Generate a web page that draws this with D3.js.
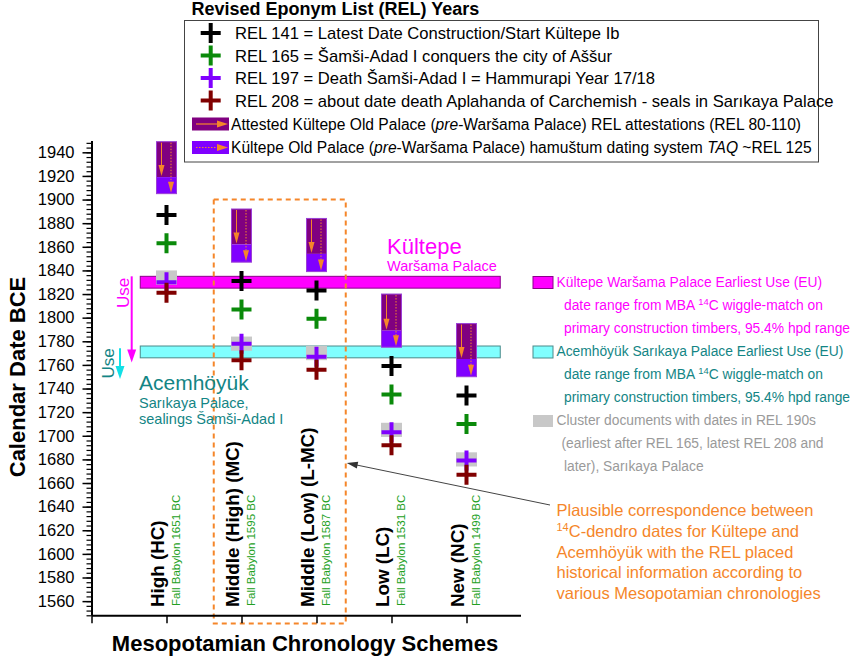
<!DOCTYPE html>
<html><head><meta charset="utf-8">
<script src="https://cdn.jsdelivr.net/npm/d3@7"></script>
<style>
body{margin:0;background:#fff}
svg{display:block}
text{font-family:"Liberation Sans",Arial,Helvetica,sans-serif}
</style>
</head><body>
<svg id="c" width="850" height="658"></svg>
<script>
// ---------- data ----------
const schemes = ["High (HC)", "Middle (High) (MC)", "Middle (Low) (L-MC)", "Low (LC)", "New (NC)"];
const fallBabylon = ["Fall Babylon 1651 BC", "Fall Babylon 1595 BC", "Fall Babylon 1587 BC", "Fall Babylon 1531 BC", "Fall Babylon 1499 BC"];
const schemePos = [1, 2, 3, 4, 5];
const rel141 = [1887, 1831, 1823, 1759, 1734];
const rel165 = [1863, 1807, 1799, 1735, 1710];
const rel197 = [1830, 1778, 1767, 1703, 1679];
const rel208 = [1821, 1764, 1756, 1692, 1667];
const attestedStart = [1949, 1892, 1884, 1820, 1795];   // REL 80
const attestedEnd   = [1919, 1862, 1854, 1789, 1765];   // REL 110
const taqEnd        = [1905, 1847, 1839, 1775, 1750];   // REL 125
const clusterTop    = [1840, 1784, 1776, 1711, 1686];
const clusterBottom = [1828, 1772, 1764, 1699, 1674];
const kultepeEU = [1835, 1825];
const acemhoyukEU = [1776, 1766];
const bandSpan = [0.65, 5.45];
const plausibleX = [1.63, 3.39];
const plausibleY = [1541, 1900];
const yTicks = d3.range(1560, 1941, 20);
const yMinor = d3.range(1548, 1951, 4);
const legendRows = [
  "REL 141 = Latest Date Construction/Start Kültepe Ib",
  "REL 165 = Šamši-Adad I conquers the city of Aššur",
  "REL 197 = Death Šamši-Adad I = Hammurapi Year 17/18",
  "REL 208 = about date death Aplahanda of Carchemish - seals in Sarıkaya Palace"
];

// ---------- colors ----------
const C = {
  black:"#000000", green:"#0a8a0a", violet:"#8000ff", dred:"#800000",
  dpurple:"#800080", magenta:"#ff00ff", cyan:"#80ffff", teal:"#138585",
  gray:"#c8c8c8", grayText:"#9a9a9a", orange:"#f5862a", fb:"#22a022"
};
const crossSeries = [
  {vals: rel141, color: C.black},
  {vals: rel165, color: C.green},
  {vals: rel197, color: C.violet},
  {vals: rel208, color: C.dred}
];

const svg = d3.select("#c");
const x = d3.scaleLinear().domain([0, 5.72]).range([91.5, 520.5]);
const y = d3.scaleLinear().domain([1548, 1950]).range([615.3, 140.5]);

// ---------- bands ----------
svg.append("rect").attr("x", x(bandSpan[0])).attr("width", x(bandSpan[1]) - x(bandSpan[0]))
  .attr("y", y(kultepeEU[0])).attr("height", y(kultepeEU[1]) - y(kultepeEU[0]))
  .attr("fill", C.magenta).attr("stroke", "#8b008b").attr("stroke-width", 1);
svg.append("rect").attr("x", x(bandSpan[0])).attr("width", x(bandSpan[1]) - x(bandSpan[0]))
  .attr("y", y(acemhoyukEU[0])).attr("height", y(acemhoyukEU[1]) - y(acemhoyukEU[0]))
  .attr("fill", C.cyan).attr("stroke", "#4a8a8a").attr("stroke-width", 1);

// ---------- bars ----------
function arrowHead(g, xx, tipY, color, len, hw) {
  g.append("path").attr("d", `M${xx - hw},${tipY - len}L${xx + hw},${tipY - len}L${xx},${tipY}Z`).attr("fill", color);
}
const barW = 20;
schemePos.forEach((p, i) => {
  const cx = x(p);
  const g = svg.append("g");
  g.append("rect").attr("x", cx - barW/2).attr("width", barW)
    .attr("y", y(attestedStart[i])).attr("height", y(attestedEnd[i]) - y(attestedStart[i]))
    .attr("fill", C.dpurple);
  g.append("rect").attr("x", cx - barW/2).attr("width", barW)
    .attr("y", y(attestedEnd[i])).attr("height", y(taqEnd[i]) - y(attestedEnd[i]))
    .attr("fill", C.violet);
  g.append("rect").attr("x", cx - barW/2).attr("width", barW)
    .attr("y", y(attestedStart[i])).attr("height", y(taqEnd[i]) - y(attestedStart[i]))
    .attr("fill", "none").attr("stroke", "#9b3fd6").attr("stroke-width", 1);
  g.append("line").attr("x1", cx - 5).attr("x2", cx - 5)
    .attr("y1", y(attestedStart[i]) + 1).attr("y2", y(attestedEnd[i]) - 8)
    .attr("stroke", C.orange).attr("stroke-width", 1);
  arrowHead(g, cx - 5, y(attestedEnd[i]) - 1, C.orange, 11, 3);
  g.append("line").attr("x1", cx + 4.5).attr("x2", cx + 4.5)
    .attr("y1", y(attestedStart[i]) + 1).attr("y2", y(taqEnd[i]) - 8)
    .attr("stroke", C.orange).attr("stroke-width", 1).attr("stroke-dasharray", "1.5,1.5");
  arrowHead(g, cx + 4.5, y(taqEnd[i]) - 1, C.orange, 11, 3);
});

// ---------- cluster (gray) ----------
schemePos.forEach((p, i) => {
  svg.append("rect").attr("x", x(p) - 10.5).attr("width", 21)
    .attr("y", y(clusterTop[i])).attr("height", y(clusterBottom[i]) - y(clusterTop[i]))
    .attr("fill", C.gray);
});

// ---------- crosses ----------
function cross(g, cx, cy, color, s) {
  g.append("path").attr("d", `M${cx - s},${cy}H${cx + s}M${cx},${cy - s}V${cy + s}`)
    .attr("stroke", color).attr("stroke-width", 4).attr("fill", "none");
}
crossSeries.forEach(s => {
  schemePos.forEach((p, i) => cross(svg, x(p), y(s.vals[i]), s.color, 10));
});

// ---------- plausible box ----------
svg.append("rect").attr("x", x(plausibleX[0])).attr("width", x(plausibleX[1]) - x(plausibleX[0]))
  .attr("y", y(plausibleY[1])).attr("height", y(plausibleY[0]) - y(plausibleY[1]))
  .attr("fill", "none").attr("stroke", C.orange).attr("stroke-width", 2).attr("stroke-dasharray", "5,4");

// ---------- axes ----------
const yAx = svg.append("g").attr("transform", `translate(${x(0)},0)`)
  .call(d3.axisLeft(y).tickValues(yTicks).tickSize(9).tickSizeOuter(0).tickPadding(8).tickFormat(d3.format("d")));
yAx.select(".domain").attr("stroke-width", 2);
yAx.selectAll(".tick line").attr("stroke-width", 1.5);
yAx.selectAll("text").attr("font-size", 16.5).attr("fill", "#000").attr("font-family", '"Liberation Sans",Arial,sans-serif');
const yMin = svg.append("g").attr("transform", `translate(${x(0)},0)`)
  .call(d3.axisLeft(y).tickValues(yMinor).tickSize(5).tickSizeOuter(0).tickFormat(""));
yMin.select(".domain").remove();
yMin.selectAll(".tick line").attr("stroke-width", 1.2);

const xAx = svg.append("g").attr("transform", `translate(0,${y(1548)})`)
  .call(d3.axisBottom(x).tickValues([0].concat(schemePos)).tickSize(8).tickSizeOuter(0).tickFormat(""));
xAx.select(".domain").attr("stroke-width", 2);
xAx.selectAll(".tick line").attr("stroke-width", 1.5);

// category labels
schemePos.forEach((p, i) => {
  const cx = x(p);
  svg.append("text").attr("transform", `translate(${cx - 2.5},607) rotate(-90)`)
    .attr("font-size", 18.8).attr("font-weight", "bold").attr("fill", "#000").text(schemes[i]);
  svg.append("text").attr("transform", `translate(${cx + 13.5},606) rotate(-90)`)
    .attr("font-size", 11.5).attr("fill", C.fb).text(fallBabylon[i]);
});

// axis titles
svg.append("text").attr("x", 305).attr("y", 651).attr("text-anchor", "middle")
  .attr("font-size", 22).attr("font-weight", "bold").text("Mesopotamian Chronology Schemes");
svg.append("text").attr("transform", "translate(25,377) rotate(-90)").attr("text-anchor", "middle")
  .attr("font-size", 22).attr("font-weight", "bold").text("Calendar Date BCE");

// ---------- in-plot annotations ----------
svg.append("text").attr("x", 387).attr("y", 254).attr("font-size", 22).attr("fill", C.magenta).text("Kültepe");
svg.append("text").attr("x", 387).attr("y", 271).attr("font-size", 14.5).attr("fill", C.magenta).text("Waršama Palace");
svg.append("text").attr("x", 139).attr("y", 390).attr("font-size", 21).attr("fill", C.teal).text("Acemhöyük");
svg.append("text").attr("x", 139).attr("y", 407.5).attr("font-size", 14.5).attr("fill", C.teal).text("Sarıkaya Palace,");
svg.append("text").attr("x", 139).attr("y", 424).attr("font-size", 14.5).attr("fill", C.teal).text("sealings Šamši-Adad I");

// Use arrows
svg.append("text").attr("transform", "translate(128.5,308) rotate(-90)").attr("font-size", 17).attr("fill", C.magenta).text("Use");
svg.append("line").attr("x1", x(0.536)).attr("x2", x(0.536)).attr("y1", y(kultepeEU[0])).attr("y2", y(1762) - 10)
  .attr("stroke", C.magenta).attr("stroke-width", 2);
arrowHead(svg, x(0.536), y(1762), C.magenta, 13, 4.5);
svg.append("text").attr("transform", "translate(113.5,378.5) rotate(-90)").attr("font-size", 17).attr("fill", C.teal).text("Use");
svg.append("line").attr("x1", x(0.38)).attr("x2", x(0.38)).attr("y1", y(1774)).attr("y2", y(1748) - 10)
  .attr("stroke", "#12e0e6").attr("stroke-width", 2);
arrowHead(svg, x(0.38), y(1748), "#12e0e6", 13, 4.5);

// pointer to dashed box
const tipX = x(plausibleX[1]) + 1, tipY = y(1677);
const sx = 550, sy = 505;
svg.append("line").attr("x1", sx).attr("y1", sy).attr("x2", tipX + 8).attr("y2", tipY + 1.7)
  .attr("stroke", "#444").attr("stroke-width", 1);
{
  const ang = Math.atan2(sy - tipY, sx - tipX);
  const L = 11, W = 3.5;
  const bx = tipX + L * Math.cos(ang), by = tipY + L * Math.sin(ang);
  const px = -Math.sin(ang) * W, py = Math.cos(ang) * W;
  svg.append("path").attr("d", `M${tipX},${tipY}L${bx + px},${by + py}L${bx - px},${by - py}Z`).attr("fill", "#333");
}
const annot = svg.append("text").attr("font-size", 16.5).attr("fill", C.orange);
annot.append("tspan").attr("x", 556.5).attr("y", 516).text("Plausible correspondence between");
const l2 = annot.append("tspan").attr("x", 556.5).attr("y", 536.5);
l2.append("tspan").attr("font-size", 11).attr("dy", -6).text("14");
l2.append("tspan").attr("dy", 6).text("C-dendro dates for Kültepe and");
annot.append("tspan").attr("x", 556.5).attr("y", 557.5).text("Acemhöyük with the REL placed");
annot.append("tspan").attr("x", 556.5).attr("y", 578).text("historical information according to");
annot.append("tspan").attr("x", 556.5).attr("y", 598.5).text("various Mesopotamian chronologies");

// ---------- right legend ----------
function sup(t, pre, post, fs) {
  t.append("tspan").text(pre);
  t.append("tspan").attr("font-size", fs * 0.68).attr("dy", -5).text("14");
  t.append("tspan").attr("dy", 5).text(post);
}
const rfs = 13.8;
svg.append("rect").attr("x", 533).attr("y", 276.5).attr("width", 20).attr("height", 12).attr("fill", C.magenta).attr("stroke", "#8b008b");
svg.append("text").attr("x", 556.5).attr("y", 286.5).attr("font-size", rfs).attr("fill", C.magenta).text("Kültepe Waršama Palace Earliest Use (EU)");
sup(svg.append("text").attr("x", 564).attr("y", 309.5).attr("font-size", rfs).attr("fill", C.magenta), "date range from MBA ", "C wiggle-match on", rfs);
svg.append("text").attr("x", 564).attr("y", 332.5).attr("font-size", rfs).attr("fill", C.magenta).text("primary construction timbers, 95.4% hpd range");

svg.append("rect").attr("x", 533).attr("y", 346).attr("width", 20).attr("height", 12).attr("fill", C.cyan).attr("stroke", "#4a8a8a");
svg.append("text").attr("x", 556.5).attr("y", 356).attr("font-size", rfs).attr("fill", C.teal).text("Acemhöyük Sarıkaya Palace Earliest Use (EU)");
sup(svg.append("text").attr("x", 564).attr("y", 379).attr("font-size", rfs).attr("fill", C.teal), "date range from MBA ", "C wiggle-match on", rfs);
svg.append("text").attr("x", 564).attr("y", 402).attr("font-size", rfs).attr("fill", C.teal).text("primary construction timbers, 95.4% hpd range");

svg.append("rect").attr("x", 533).attr("y", 415).attr("width", 20).attr("height", 12).attr("fill", C.gray);
svg.append("text").attr("x", 556.5).attr("y", 425).attr("font-size", rfs).attr("fill", C.grayText).text("Cluster documents with dates in REL 190s");
svg.append("text").attr("x", 561.5).attr("y", 448).attr("font-size", rfs).attr("fill", C.grayText).text("(earliest after REL 165, latest REL 208 and");
svg.append("text").attr("x", 564).attr("y", 471).attr("font-size", rfs).attr("fill", C.grayText).text("later), Sarıkaya Palace");

// ---------- top legend ----------
svg.append("text").attr("x", 191.5).attr("y", 15).attr("font-size", 18).attr("font-weight", "bold").text("Revised Eponym List (REL) Years");
svg.append("rect").attr("x", 184.5).attr("y", 20.5).attr("width", 634).attr("height", 141.5)
  .attr("fill", "#fff").attr("stroke", "#444").attr("stroke-width", 1);
const rowY = [33, 55.5, 78, 100.5];
crossSeries.forEach((s, k) => {
  cross(svg, 210.7, rowY[k], s.color, 10);
  svg.append("text").attr("x", 235).attr("y", rowY[k] + 6).attr("font-size", 16.6).text(legendRows[k]);
});
function swatch(yy, fill, dotted) {
  svg.append("rect").attr("x", 192).attr("y", yy - 6.5).attr("width", 37).attr("height", 13).attr("fill", fill);
  const ln = svg.append("line").attr("x1", 196).attr("x2", 218).attr("y1", yy).attr("y2", yy).attr("stroke", C.orange).attr("stroke-width", 1.2);
  if (dotted) ln.attr("stroke-dasharray", "1.5,1.5");
  svg.append("path").attr("d", `M217,${yy - 3.5}L228,${yy}L217,${yy + 3.5}Z`).attr("fill", C.orange);
}
swatch(124, C.dpurple, false);
swatch(147.5, C.violet, true);
const t1 = svg.append("text").attr("x", 231).attr("y", 129.5).attr("font-size", 15.6);
t1.append("tspan").text("Attested Kültepe Old Palace (");
t1.append("tspan").attr("font-style", "italic").text("pre");
t1.append("tspan").text("-Waršama Palace) REL attestations (REL 80-110)");
const t2 = svg.append("text").attr("x", 231).attr("y", 153).attr("font-size", 15.6);
t2.append("tspan").text("Kültepe Old Palace (");
t2.append("tspan").attr("font-style", "italic").text("pre");
t2.append("tspan").text("-Waršama Palace) hamuštum dating system ");
t2.append("tspan").attr("font-style", "italic").text("TAQ");
t2.append("tspan").text(" ~REL 125");
</script>
</body></html>
